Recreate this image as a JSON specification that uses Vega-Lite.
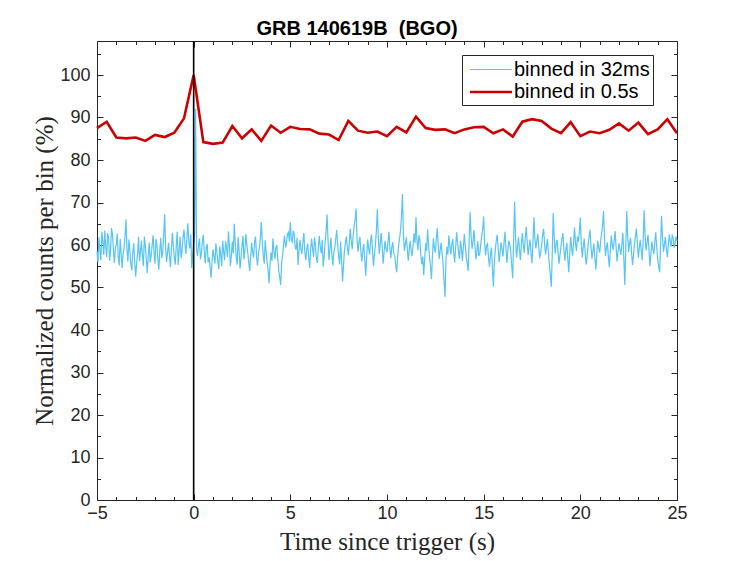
{
  "$schema": "https://vega.github.io/schema/vega-lite/v6.json",
  "width": 580,
  "height": 459,
  "autosize": {"type": "none"},
  "padding": {"left": 97, "top": 41, "right": 70, "bottom": 61},
  "background": "white",
  "title": {
    "text": "GRB 140619B\u00a0 (BGO)",
    "font": "Liberation Sans",
    "fontSize": 20,
    "fontWeight": "bold",
    "color": "black",
    "anchor": "middle",
    "dx": -30,
    "dy": 21,
    "offset": 6,
    "baseline": "alphabetic"
  },
  "data": {"values": [
    {"t":-5.00,"v":58.5,"s":"a"},{"t":-4.95,"v":55.9,"s":"a"},{"t":-4.90,"v":61.8,"s":"a"},{"t":-4.85,"v":59.0,"s":"a"},{"t":-4.80,"v":56.4,"s":"a"},
    {"t":-4.75,"v":63.1,"s":"a"},{"t":-4.70,"v":60.9,"s":"a"},{"t":-4.65,"v":57.7,"s":"a"},{"t":-4.60,"v":63.4,"s":"a"},{"t":-4.55,"v":59.6,"s":"a"},
    {"t":-4.50,"v":57.2,"s":"a"},{"t":-4.45,"v":62.8,"s":"a"},{"t":-4.40,"v":61.6,"s":"a"},{"t":-4.35,"v":56.3,"s":"a"},{"t":-4.30,"v":58.7,"s":"a"},
    {"t":-4.25,"v":64.0,"s":"a"},{"t":-4.20,"v":62.5,"s":"a"},{"t":-4.15,"v":58.9,"s":"a"},{"t":-4.10,"v":55.8,"s":"a"},{"t":-4.05,"v":59.4,"s":"a"},
    {"t":-4.00,"v":60.1,"s":"a"},{"t":-3.95,"v":62.7,"s":"a"},{"t":-3.90,"v":57.0,"s":"a"},{"t":-3.85,"v":55.2,"s":"a"},{"t":-3.80,"v":61.4,"s":"a"},
    {"t":-3.75,"v":58.1,"s":"a"},{"t":-3.70,"v":54.6,"s":"a"},{"t":-3.65,"v":57.9,"s":"a"},{"t":-3.60,"v":59.3,"s":"a"},{"t":-3.55,"v":62.2,"s":"a"},
    {"t":-3.50,"v":66.0,"s":"a"},{"t":-3.45,"v":58.8,"s":"a"},{"t":-3.40,"v":56.1,"s":"a"},{"t":-3.35,"v":61.3,"s":"a"},{"t":-3.30,"v":58.8,"s":"a"},
    {"t":-3.25,"v":55.5,"s":"a"},{"t":-3.20,"v":54.0,"s":"a"},{"t":-3.15,"v":58.3,"s":"a"},{"t":-3.10,"v":60.4,"s":"a"},{"t":-3.05,"v":56.0,"s":"a"},
    {"t":-3.00,"v":52.6,"s":"a"},{"t":-2.95,"v":55.7,"s":"a"},{"t":-2.90,"v":58.0,"s":"a"},{"t":-2.85,"v":61.9,"s":"a"},{"t":-2.80,"v":56.2,"s":"a"},
    {"t":-2.75,"v":58.5,"s":"a"},{"t":-2.70,"v":61.0,"s":"a"},{"t":-2.65,"v":57.3,"s":"a"},{"t":-2.60,"v":55.1,"s":"a"},{"t":-2.55,"v":62.0,"s":"a"},
    {"t":-2.50,"v":59.7,"s":"a"},{"t":-2.45,"v":56.8,"s":"a"},{"t":-2.40,"v":53.4,"s":"a"},{"t":-2.35,"v":57.6,"s":"a"},{"t":-2.30,"v":60.6,"s":"a"},
    {"t":-2.25,"v":55.9,"s":"a"},{"t":-2.20,"v":57.5,"s":"a"},{"t":-2.15,"v":59.8,"s":"a"},{"t":-2.10,"v":62.3,"s":"a"},{"t":-2.05,"v":58.4,"s":"a"},
    {"t":-2.00,"v":55.6,"s":"a"},{"t":-1.95,"v":61.4,"s":"a"},{"t":-1.90,"v":59.9,"s":"a"},{"t":-1.85,"v":56.7,"s":"a"},{"t":-1.80,"v":54.2,"s":"a"},
    {"t":-1.75,"v":58.9,"s":"a"},{"t":-1.70,"v":61.7,"s":"a"},{"t":-1.65,"v":56.9,"s":"a"},{"t":-1.60,"v":58.3,"s":"a"},{"t":-1.55,"v":62.4,"s":"a"},
    {"t":-1.50,"v":67.2,"s":"a"},{"t":-1.45,"v":59.5,"s":"a"},{"t":-1.40,"v":56.0,"s":"a"},{"t":-1.35,"v":58.2,"s":"a"},{"t":-1.30,"v":60.5,"s":"a"},
    {"t":-1.25,"v":57.6,"s":"a"},{"t":-1.20,"v":54.8,"s":"a"},{"t":-1.15,"v":59.1,"s":"a"},{"t":-1.10,"v":62.9,"s":"a"},{"t":-1.05,"v":59.6,"s":"a"},
    {"t":-1.00,"v":57.1,"s":"a"},{"t":-0.95,"v":55.4,"s":"a"},{"t":-0.90,"v":60.0,"s":"a"},{"t":-0.85,"v":63.1,"s":"a"},{"t":-0.80,"v":55.3,"s":"a"},
    {"t":-0.75,"v":58.7,"s":"a"},{"t":-0.70,"v":62.0,"s":"a"},{"t":-0.65,"v":56.9,"s":"a"},{"t":-0.60,"v":58.6,"s":"a"},{"t":-0.55,"v":61.8,"s":"a"},
    {"t":-0.50,"v":63.6,"s":"a"},{"t":-0.45,"v":60.2,"s":"a"},{"t":-0.40,"v":57.9,"s":"a"},{"t":-0.35,"v":61.6,"s":"a"},{"t":-0.30,"v":65.1,"s":"a"},
    {"t":-0.25,"v":60.7,"s":"a"},{"t":-0.20,"v":59.2,"s":"a"},{"t":-0.15,"v":62.5,"s":"a"},{"t":-0.10,"v":54.6,"s":"a"},{"t":-0.05,"v":57.8,"s":"a"},
    {"t":0.00,"v":60.3,"s":"a"},{"t":0.05,"v":62.0,"s":"a"},{"t":0.10,"v":92.0,"s":"a"},{"t":0.15,"v":58.9,"s":"a"},{"t":0.20,"v":57.4,"s":"a"},
    {"t":0.25,"v":60.1,"s":"a"},{"t":0.30,"v":61.5,"s":"a"},{"t":0.35,"v":56.6,"s":"a"},{"t":0.40,"v":58.0,"s":"a"},{"t":0.45,"v":60.9,"s":"a"},
    {"t":0.50,"v":62.4,"s":"a"},{"t":0.55,"v":58.3,"s":"a"},{"t":0.60,"v":55.7,"s":"a"},{"t":0.65,"v":59.5,"s":"a"},{"t":0.70,"v":60.2,"s":"a"},
    {"t":0.75,"v":55.9,"s":"a"},{"t":0.80,"v":57.1,"s":"a"},{"t":0.85,"v":54.7,"s":"a"},{"t":0.90,"v":52.3,"s":"a"},{"t":0.95,"v":56.2,"s":"a"},
    {"t":1.00,"v":59.0,"s":"a"},{"t":1.05,"v":57.3,"s":"a"},{"t":1.10,"v":55.6,"s":"a"},{"t":1.15,"v":60.4,"s":"a"},{"t":1.20,"v":58.4,"s":"a"},
    {"t":1.25,"v":56.1,"s":"a"},{"t":1.30,"v":54.3,"s":"a"},{"t":1.35,"v":59.7,"s":"a"},{"t":1.40,"v":57.8,"s":"a"},{"t":1.45,"v":55.0,"s":"a"},
    {"t":1.50,"v":61.0,"s":"a"},{"t":1.55,"v":58.5,"s":"a"},{"t":1.60,"v":56.4,"s":"a"},{"t":1.65,"v":60.9,"s":"a"},{"t":1.70,"v":59.5,"s":"a"},
    {"t":1.75,"v":57.2,"s":"a"},{"t":1.80,"v":63.2,"s":"a"},{"t":1.85,"v":59.8,"s":"a"},{"t":1.90,"v":55.0,"s":"a"},{"t":1.95,"v":57.6,"s":"a"},
    {"t":2.00,"v":60.8,"s":"a"},{"t":2.05,"v":58.0,"s":"a"},{"t":2.10,"v":65.0,"s":"a"},{"t":2.15,"v":60.6,"s":"a"},{"t":2.20,"v":57.2,"s":"a"},
    {"t":2.25,"v":55.4,"s":"a"},{"t":2.30,"v":61.9,"s":"a"},{"t":2.35,"v":58.6,"s":"a"},{"t":2.40,"v":54.5,"s":"a"},{"t":2.45,"v":57.1,"s":"a"},
    {"t":2.50,"v":59.8,"s":"a"},{"t":2.55,"v":62.2,"s":"a"},{"t":2.60,"v":56.6,"s":"a"},{"t":2.65,"v":58.9,"s":"a"},{"t":2.70,"v":62.6,"s":"a"},
    {"t":2.75,"v":60.1,"s":"a"},{"t":2.80,"v":58.1,"s":"a"},{"t":2.85,"v":55.8,"s":"a"},{"t":2.90,"v":53.9,"s":"a"},{"t":2.95,"v":57.4,"s":"a"},
    {"t":3.00,"v":60.5,"s":"a"},{"t":3.05,"v":58.2,"s":"a"},{"t":3.10,"v":57.0,"s":"a"},{"t":3.15,"v":60.8,"s":"a"},{"t":3.20,"v":62.0,"s":"a"},
    {"t":3.25,"v":57.5,"s":"a"},{"t":3.30,"v":55.2,"s":"a"},{"t":3.35,"v":57.9,"s":"a"},{"t":3.40,"v":59.4,"s":"a"},{"t":3.45,"v":61.7,"s":"a"},
    {"t":3.50,"v":65.4,"s":"a"},{"t":3.55,"v":60.3,"s":"a"},{"t":3.60,"v":57.6,"s":"a"},{"t":3.65,"v":55.6,"s":"a"},{"t":3.70,"v":61.1,"s":"a"},
    {"t":3.75,"v":58.4,"s":"a"},{"t":3.80,"v":55.9,"s":"a"},{"t":3.85,"v":54.1,"s":"a"},{"t":3.90,"v":51.0,"s":"a"},{"t":3.95,"v":55.5,"s":"a"},
    {"t":4.00,"v":58.2,"s":"a"},{"t":4.05,"v":56.3,"s":"a"},{"t":4.10,"v":61.6,"s":"a"},{"t":4.15,"v":58.7,"s":"a"},{"t":4.20,"v":56.8,"s":"a"},
    {"t":4.25,"v":59.3,"s":"a"},{"t":4.30,"v":60.0,"s":"a"},{"t":4.35,"v":56.9,"s":"a"},{"t":4.40,"v":54.0,"s":"a"},{"t":4.45,"v":52.5,"s":"a"},
    {"t":4.50,"v":50.6,"s":"a"},{"t":4.55,"v":55.8,"s":"a"},{"t":4.60,"v":57.5,"s":"a"},{"t":4.65,"v":60.3,"s":"a"},{"t":4.70,"v":62.2,"s":"a"},
    {"t":4.75,"v":59.4,"s":"a"},{"t":4.80,"v":60.4,"s":"a"},{"t":4.85,"v":62.6,"s":"a"},{"t":4.90,"v":63.0,"s":"a"},{"t":4.95,"v":60.8,"s":"a"},
    {"t":5.00,"v":65.4,"s":"a"},{"t":5.05,"v":61.2,"s":"a"},{"t":5.10,"v":60.7,"s":"a"},{"t":5.15,"v":63.4,"s":"a"},{"t":5.20,"v":62.6,"s":"a"},
    {"t":5.25,"v":59.5,"s":"a"},{"t":5.30,"v":58.9,"s":"a"},{"t":5.35,"v":61.7,"s":"a"},{"t":5.40,"v":55.3,"s":"a"},{"t":5.45,"v":58.6,"s":"a"},
    {"t":5.50,"v":61.2,"s":"a"},{"t":5.55,"v":59.0,"s":"a"},{"t":5.60,"v":57.9,"s":"a"},{"t":5.65,"v":60.7,"s":"a"},{"t":5.70,"v":62.8,"s":"a"},
    {"t":5.75,"v":58.3,"s":"a"},{"t":5.80,"v":56.4,"s":"a"},{"t":5.85,"v":59.1,"s":"a"},{"t":5.90,"v":60.3,"s":"a"},{"t":5.95,"v":57.2,"s":"a"},
    {"t":6.00,"v":54.6,"s":"a"},{"t":6.05,"v":58.8,"s":"a"},{"t":6.10,"v":61.5,"s":"a"},{"t":6.15,"v":59.2,"s":"a"},{"t":6.20,"v":57.2,"s":"a"},
    {"t":6.25,"v":61.8,"s":"a"},{"t":6.30,"v":59.9,"s":"a"},{"t":6.35,"v":56.6,"s":"a"},{"t":6.40,"v":55.8,"s":"a"},{"t":6.45,"v":59.7,"s":"a"},
    {"t":6.50,"v":62.1,"s":"a"},{"t":6.55,"v":59.4,"s":"a"},{"t":6.60,"v":58.0,"s":"a"},{"t":6.65,"v":61.2,"s":"a"},{"t":6.70,"v":54.9,"s":"a"},
    {"t":6.75,"v":57.5,"s":"a"},{"t":6.80,"v":60.6,"s":"a"},{"t":6.85,"v":63.3,"s":"a"},{"t":6.90,"v":67.2,"s":"a"},{"t":6.95,"v":61.1,"s":"a"},
    {"t":7.00,"v":56.5,"s":"a"},{"t":7.05,"v":59.0,"s":"a"},{"t":7.10,"v":61.7,"s":"a"},{"t":7.15,"v":57.9,"s":"a"},{"t":7.20,"v":55.2,"s":"a"},
    {"t":7.25,"v":58.3,"s":"a"},{"t":7.30,"v":59.4,"s":"a"},{"t":7.35,"v":61.6,"s":"a"},{"t":7.40,"v":63.5,"s":"a"},{"t":7.45,"v":59.9,"s":"a"},
    {"t":7.50,"v":57.3,"s":"a"},{"t":7.55,"v":55.4,"s":"a"},{"t":7.60,"v":60.8,"s":"a"},{"t":7.65,"v":56.6,"s":"a"},{"t":7.70,"v":51.4,"s":"a"},
    {"t":7.75,"v":55.2,"s":"a"},{"t":7.80,"v":58.7,"s":"a"},{"t":7.85,"v":60.6,"s":"a"},{"t":7.90,"v":62.0,"s":"a"},{"t":7.95,"v":59.3,"s":"a"},
    {"t":8.00,"v":57.6,"s":"a"},{"t":8.05,"v":60.5,"s":"a"},{"t":8.10,"v":63.8,"s":"a"},{"t":8.15,"v":61.0,"s":"a"},{"t":8.20,"v":59.0,"s":"a"},
    {"t":8.25,"v":62.1,"s":"a"},{"t":8.30,"v":64.6,"s":"a"},{"t":8.35,"v":66.0,"s":"a"},{"t":8.40,"v":68.6,"s":"a"},{"t":8.45,"v":61.3,"s":"a"},
    {"t":8.50,"v":58.4,"s":"a"},{"t":8.55,"v":60.7,"s":"a"},{"t":8.60,"v":61.9,"s":"a"},{"t":8.65,"v":58.2,"s":"a"},{"t":8.70,"v":56.1,"s":"a"},
    {"t":8.75,"v":58.9,"s":"a"},{"t":8.80,"v":60.2,"s":"a"},{"t":8.85,"v":56.4,"s":"a"},{"t":8.90,"v":52.8,"s":"a"},{"t":8.95,"v":57.6,"s":"a"},
    {"t":9.00,"v":61.3,"s":"a"},{"t":9.05,"v":59.2,"s":"a"},{"t":9.10,"v":57.7,"s":"a"},{"t":9.15,"v":60.8,"s":"a"},{"t":9.20,"v":62.5,"s":"a"},
    {"t":9.25,"v":58.7,"s":"a"},{"t":9.30,"v":55.0,"s":"a"},{"t":9.35,"v":57.9,"s":"a"},{"t":9.40,"v":60.0,"s":"a"},{"t":9.45,"v":63.4,"s":"a"},
    {"t":9.50,"v":68.4,"s":"a"},{"t":9.55,"v":61.9,"s":"a"},{"t":9.60,"v":57.9,"s":"a"},{"t":9.65,"v":60.3,"s":"a"},{"t":9.70,"v":62.8,"s":"a"},
    {"t":9.75,"v":59.6,"s":"a"},{"t":9.80,"v":55.6,"s":"a"},{"t":9.85,"v":58.4,"s":"a"},{"t":9.90,"v":61.0,"s":"a"},{"t":9.95,"v":59.1,"s":"a"},
    {"t":10.00,"v":58.3,"s":"a"},{"t":10.05,"v":60.7,"s":"a"},{"t":10.10,"v":63.1,"s":"a"},{"t":10.15,"v":59.4,"s":"a"},{"t":10.20,"v":56.9,"s":"a"},
    {"t":10.25,"v":59.5,"s":"a"},{"t":10.30,"v":60.7,"s":"a"},{"t":10.35,"v":58.0,"s":"a"},{"t":10.40,"v":57.5,"s":"a"},{"t":10.45,"v":55.2,"s":"a"},
    {"t":10.50,"v":53.6,"s":"a"},{"t":10.55,"v":57.3,"s":"a"},{"t":10.60,"v":59.8,"s":"a"},{"t":10.65,"v":61.6,"s":"a"},{"t":10.70,"v":63.4,"s":"a"},
    {"t":10.75,"v":66.9,"s":"a"},{"t":10.80,"v":72.0,"s":"a"},{"t":10.85,"v":62.4,"s":"a"},{"t":10.90,"v":58.6,"s":"a"},{"t":10.95,"v":60.2,"s":"a"},
    {"t":11.00,"v":61.8,"s":"a"},{"t":11.05,"v":59.0,"s":"a"},{"t":11.10,"v":56.3,"s":"a"},{"t":11.15,"v":58.9,"s":"a"},{"t":11.20,"v":60.9,"s":"a"},
    {"t":11.25,"v":58.5,"s":"a"},{"t":11.30,"v":57.4,"s":"a"},{"t":11.35,"v":60.1,"s":"a"},{"t":11.40,"v":62.7,"s":"a"},{"t":11.45,"v":60.4,"s":"a"},
    {"t":11.50,"v":66.5,"s":"a"},{"t":11.55,"v":61.0,"s":"a"},{"t":11.60,"v":58.8,"s":"a"},{"t":11.65,"v":62.3,"s":"a"},{"t":11.70,"v":61.2,"s":"a"},
    {"t":11.75,"v":57.7,"s":"a"},{"t":11.80,"v":55.5,"s":"a"},{"t":11.85,"v":57.3,"s":"a"},{"t":11.90,"v":52.9,"s":"a"},{"t":11.95,"v":56.8,"s":"a"},
    {"t":12.00,"v":60.4,"s":"a"},{"t":12.05,"v":58.6,"s":"a"},{"t":12.10,"v":63.7,"s":"a"},{"t":12.15,"v":60.0,"s":"a"},{"t":12.20,"v":57.1,"s":"a"},
    {"t":12.25,"v":55.0,"s":"a"},{"t":12.30,"v":52.0,"s":"a"},{"t":12.35,"v":57.4,"s":"a"},{"t":12.40,"v":61.6,"s":"a"},{"t":12.45,"v":59.3,"s":"a"},
    {"t":12.50,"v":58.2,"s":"a"},{"t":12.55,"v":61.5,"s":"a"},{"t":12.60,"v":64.0,"s":"a"},{"t":12.65,"v":59.8,"s":"a"},{"t":12.70,"v":56.7,"s":"a"},
    {"t":12.75,"v":58.8,"s":"a"},{"t":12.80,"v":60.5,"s":"a"},{"t":12.85,"v":58.0,"s":"a"},{"t":12.90,"v":55.4,"s":"a"},{"t":12.95,"v":51.6,"s":"a"},
    {"t":13.00,"v":47.8,"s":"a"},{"t":13.05,"v":56.5,"s":"a"},{"t":13.10,"v":59.6,"s":"a"},{"t":13.15,"v":57.7,"s":"a"},{"t":13.20,"v":62.3,"s":"a"},
    {"t":13.25,"v":59.9,"s":"a"},{"t":13.30,"v":57.8,"s":"a"},{"t":13.35,"v":60.1,"s":"a"},{"t":13.40,"v":61.4,"s":"a"},{"t":13.45,"v":58.3,"s":"a"},
    {"t":13.50,"v":55.9,"s":"a"},{"t":13.55,"v":59.4,"s":"a"},{"t":13.60,"v":63.0,"s":"a"},{"t":13.65,"v":60.6,"s":"a"},{"t":13.70,"v":58.5,"s":"a"},
    {"t":13.75,"v":56.7,"s":"a"},{"t":13.80,"v":61.0,"s":"a"},{"t":13.85,"v":59.2,"s":"a"},{"t":13.90,"v":56.2,"s":"a"},{"t":13.95,"v":59.6,"s":"a"},
    {"t":14.00,"v":62.6,"s":"a"},{"t":14.05,"v":59.8,"s":"a"},{"t":14.10,"v":57.2,"s":"a"},{"t":14.15,"v":55.6,"s":"a"},{"t":14.20,"v":53.9,"s":"a"},
    {"t":14.25,"v":61.2,"s":"a"},{"t":14.30,"v":67.7,"s":"a"},{"t":14.35,"v":62.0,"s":"a"},{"t":14.40,"v":59.1,"s":"a"},{"t":14.45,"v":61.0,"s":"a"},
    {"t":14.50,"v":63.5,"s":"a"},{"t":14.55,"v":59.7,"s":"a"},{"t":14.60,"v":56.6,"s":"a"},{"t":14.65,"v":58.6,"s":"a"},{"t":14.70,"v":60.9,"s":"a"},
    {"t":14.75,"v":57.4,"s":"a"},{"t":14.80,"v":58.0,"s":"a"},{"t":14.85,"v":60.3,"s":"a"},{"t":14.90,"v":62.1,"s":"a"},{"t":14.95,"v":63.8,"s":"a"},
    {"t":15.00,"v":66.7,"s":"a"},{"t":15.05,"v":60.5,"s":"a"},{"t":15.10,"v":57.6,"s":"a"},{"t":15.15,"v":59.9,"s":"a"},{"t":15.20,"v":60.3,"s":"a"},
    {"t":15.25,"v":57.0,"s":"a"},{"t":15.30,"v":54.9,"s":"a"},{"t":15.35,"v":57.8,"s":"a"},{"t":15.40,"v":59.4,"s":"a"},{"t":15.45,"v":55.0,"s":"a"},
    {"t":15.50,"v":50.2,"s":"a"},{"t":15.55,"v":55.6,"s":"a"},{"t":15.60,"v":58.8,"s":"a"},{"t":15.65,"v":61.0,"s":"a"},{"t":15.70,"v":62.4,"s":"a"},
    {"t":15.75,"v":59.2,"s":"a"},{"t":15.80,"v":56.0,"s":"a"},{"t":15.85,"v":58.3,"s":"a"},{"t":15.90,"v":60.6,"s":"a"},{"t":15.95,"v":58.9,"s":"a"},
    {"t":16.00,"v":57.3,"s":"a"},{"t":16.05,"v":60.4,"s":"a"},{"t":16.10,"v":63.1,"s":"a"},{"t":16.15,"v":59.3,"s":"a"},{"t":16.20,"v":55.8,"s":"a"},
    {"t":16.25,"v":58.7,"s":"a"},{"t":16.30,"v":61.0,"s":"a"},{"t":16.35,"v":60.2,"s":"a"},{"t":16.40,"v":58.4,"s":"a"},{"t":16.45,"v":55.1,"s":"a"},
    {"t":16.50,"v":52.2,"s":"a"},{"t":16.55,"v":61.3,"s":"a"},{"t":16.60,"v":70.2,"s":"a"},{"t":16.65,"v":62.0,"s":"a"},{"t":16.70,"v":57.0,"s":"a"},
    {"t":16.75,"v":59.4,"s":"a"},{"t":16.80,"v":61.8,"s":"a"},{"t":16.85,"v":59.0,"s":"a"},{"t":16.90,"v":56.5,"s":"a"},{"t":16.95,"v":60.1,"s":"a"},
    {"t":17.00,"v":62.9,"s":"a"},{"t":17.05,"v":60.0,"s":"a"},{"t":17.10,"v":58.1,"s":"a"},{"t":17.15,"v":61.6,"s":"a"},{"t":17.20,"v":64.2,"s":"a"},
    {"t":17.25,"v":60.9,"s":"a"},{"t":17.30,"v":57.6,"s":"a"},{"t":17.35,"v":59.8,"s":"a"},{"t":17.40,"v":61.3,"s":"a"},{"t":17.45,"v":58.0,"s":"a"},
    {"t":17.50,"v":55.7,"s":"a"},{"t":17.55,"v":60.8,"s":"a"},{"t":17.60,"v":66.5,"s":"a"},{"t":17.65,"v":61.4,"s":"a"},{"t":17.70,"v":59.2,"s":"a"},
    {"t":17.75,"v":60.9,"s":"a"},{"t":17.80,"v":62.6,"s":"a"},{"t":17.85,"v":59.5,"s":"a"},{"t":17.90,"v":56.9,"s":"a"},{"t":17.95,"v":58.2,"s":"a"},
    {"t":18.00,"v":60.1,"s":"a"},{"t":18.05,"v":62.4,"s":"a"},{"t":18.10,"v":63.8,"s":"a"},{"t":18.15,"v":60.3,"s":"a"},{"t":18.20,"v":57.8,"s":"a"},
    {"t":18.25,"v":59.6,"s":"a"},{"t":18.30,"v":61.4,"s":"a"},{"t":18.35,"v":58.0,"s":"a"},{"t":18.40,"v":55.2,"s":"a"},{"t":18.45,"v":52.9,"s":"a"},
    {"t":18.50,"v":50.2,"s":"a"},{"t":18.55,"v":58.4,"s":"a"},{"t":18.60,"v":67.5,"s":"a"},{"t":18.65,"v":61.6,"s":"a"},{"t":18.70,"v":58.0,"s":"a"},
    {"t":18.75,"v":60.3,"s":"a"},{"t":18.80,"v":61.2,"s":"a"},{"t":18.85,"v":58.1,"s":"a"},{"t":18.90,"v":55.6,"s":"a"},{"t":18.95,"v":57.8,"s":"a"},
    {"t":19.00,"v":59.7,"s":"a"},{"t":19.05,"v":61.5,"s":"a"},{"t":19.10,"v":62.8,"s":"a"},{"t":19.15,"v":59.0,"s":"a"},{"t":19.20,"v":56.3,"s":"a"},
    {"t":19.25,"v":58.9,"s":"a"},{"t":19.30,"v":60.5,"s":"a"},{"t":19.35,"v":56.8,"s":"a"},{"t":19.40,"v":53.6,"s":"a"},{"t":19.45,"v":57.9,"s":"a"},
    {"t":19.50,"v":61.9,"s":"a"},{"t":19.55,"v":59.3,"s":"a"},{"t":19.60,"v":57.5,"s":"a"},{"t":19.65,"v":60.6,"s":"a"},{"t":19.70,"v":64.1,"s":"a"},
    {"t":19.75,"v":60.4,"s":"a"},{"t":19.80,"v":58.6,"s":"a"},{"t":19.85,"v":62.0,"s":"a"},{"t":19.90,"v":60.8,"s":"a"},{"t":19.95,"v":63.1,"s":"a"},
    {"t":20.00,"v":66.4,"s":"a"},{"t":20.05,"v":60.2,"s":"a"},{"t":20.10,"v":57.1,"s":"a"},{"t":20.15,"v":59.6,"s":"a"},{"t":20.20,"v":61.5,"s":"a"},
    {"t":20.25,"v":58.4,"s":"a"},{"t":20.30,"v":55.4,"s":"a"},{"t":20.35,"v":57.2,"s":"a"},{"t":20.40,"v":59.9,"s":"a"},{"t":20.45,"v":61.8,"s":"a"},
    {"t":20.50,"v":63.6,"s":"a"},{"t":20.55,"v":59.7,"s":"a"},{"t":20.60,"v":56.8,"s":"a"},{"t":20.65,"v":58.5,"s":"a"},{"t":20.70,"v":60.3,"s":"a"},
    {"t":20.75,"v":57.1,"s":"a"},{"t":20.80,"v":54.2,"s":"a"},{"t":20.85,"v":57.7,"s":"a"},{"t":20.90,"v":61.0,"s":"a"},{"t":20.95,"v":59.4,"s":"a"},
    {"t":21.00,"v":58.2,"s":"a"},{"t":21.05,"v":60.9,"s":"a"},{"t":21.10,"v":62.7,"s":"a"},{"t":21.15,"v":64.6,"s":"a"},{"t":21.20,"v":68.0,"s":"a"},
    {"t":21.25,"v":61.5,"s":"a"},{"t":21.30,"v":57.4,"s":"a"},{"t":21.35,"v":59.5,"s":"a"},{"t":21.40,"v":60.6,"s":"a"},{"t":21.45,"v":57.3,"s":"a"},
    {"t":21.50,"v":54.8,"s":"a"},{"t":21.55,"v":58.7,"s":"a"},{"t":21.60,"v":62.2,"s":"a"},{"t":21.65,"v":60.0,"s":"a"},{"t":21.70,"v":58.9,"s":"a"},
    {"t":21.75,"v":61.1,"s":"a"},{"t":21.80,"v":63.3,"s":"a"},{"t":21.85,"v":59.4,"s":"a"},{"t":21.90,"v":56.1,"s":"a"},{"t":21.95,"v":58.5,"s":"a"},
    {"t":22.00,"v":60.4,"s":"a"},{"t":22.05,"v":59.0,"s":"a"},{"t":22.10,"v":57.7,"s":"a"},{"t":22.15,"v":60.3,"s":"a"},{"t":22.20,"v":62.9,"s":"a"},
    {"t":22.25,"v":56.8,"s":"a"},{"t":22.30,"v":50.6,"s":"a"},{"t":22.35,"v":59.2,"s":"a"},{"t":22.40,"v":68.0,"s":"a"},{"t":22.45,"v":62.1,"s":"a"},
    {"t":22.50,"v":58.3,"s":"a"},{"t":22.55,"v":60.5,"s":"a"},{"t":22.60,"v":61.7,"s":"a"},{"t":22.65,"v":58.2,"s":"a"},{"t":22.70,"v":55.3,"s":"a"},
    {"t":22.75,"v":57.6,"s":"a"},{"t":22.80,"v":60.0,"s":"a"},{"t":22.85,"v":62.1,"s":"a"},{"t":22.90,"v":63.9,"s":"a"},{"t":22.95,"v":60.4,"s":"a"},
    {"t":23.00,"v":57.0,"s":"a"},{"t":23.05,"v":59.3,"s":"a"},{"t":23.10,"v":61.2,"s":"a"},{"t":23.15,"v":58.8,"s":"a"},{"t":23.20,"v":56.4,"s":"a"},
    {"t":23.25,"v":61.0,"s":"a"},{"t":23.30,"v":68.2,"s":"a"},{"t":23.35,"v":62.2,"s":"a"},{"t":23.40,"v":58.7,"s":"a"},{"t":23.45,"v":60.6,"s":"a"},
    {"t":23.50,"v":62.4,"s":"a"},{"t":23.55,"v":58.9,"s":"a"},{"t":23.60,"v":55.0,"s":"a"},{"t":23.65,"v":57.8,"s":"a"},{"t":23.70,"v":60.8,"s":"a"},
    {"t":23.75,"v":59.1,"s":"a"},{"t":23.80,"v":57.9,"s":"a"},{"t":23.85,"v":60.7,"s":"a"},{"t":23.90,"v":63.0,"s":"a"},{"t":23.95,"v":59.6,"s":"a"},
    {"t":24.00,"v":56.6,"s":"a"},{"t":24.05,"v":55.0,"s":"a"},{"t":24.10,"v":53.6,"s":"a"},{"t":24.15,"v":59.8,"s":"a"},{"t":24.20,"v":66.9,"s":"a"},
    {"t":24.25,"v":61.7,"s":"a"},{"t":24.30,"v":58.4,"s":"a"},{"t":24.35,"v":60.2,"s":"a"},{"t":24.40,"v":61.9,"s":"a"},{"t":24.45,"v":59.0,"s":"a"},
    {"t":24.50,"v":57.2,"s":"a"},{"t":24.55,"v":59.9,"s":"a"},{"t":24.60,"v":62.5,"s":"a"},{"t":24.65,"v":60.8,"s":"a"},{"t":24.70,"v":59.6,"s":"a"},
    {"t":24.75,"v":62.3,"s":"a"},{"t":24.80,"v":61.8,"s":"a"},{"t":24.85,"v":59.4,"s":"a"},{"t":24.90,"v":60.2,"s":"a"},{"t":24.95,"v":62.0,"s":"a"},
    {"t":25.00,"v":61.0,"s":"a"},
    {"t":-5.0,"v":87.5,"s":"b"},{"t":-4.5,"v":89.0,"s":"b"},{"t":-4.0,"v":85.3,"s":"b"},{"t":-3.5,"v":85.1,"s":"b"},{"t":-3.0,"v":85.3,"s":"b"},
    {"t":-2.5,"v":84.5,"s":"b"},{"t":-2.0,"v":85.9,"s":"b"},{"t":-1.5,"v":85.4,"s":"b"},{"t":-1.0,"v":86.4,"s":"b"},{"t":-0.5,"v":89.8,"s":"b"},
    {"t":0.0,"v":100.0,"s":"b"},{"t":0.5,"v":84.2,"s":"b"},{"t":1.0,"v":83.8,"s":"b"},{"t":1.5,"v":84.1,"s":"b"},{"t":2.0,"v":88.0,"s":"b"},
    {"t":2.5,"v":85.1,"s":"b"},{"t":3.0,"v":87.2,"s":"b"},{"t":3.5,"v":84.5,"s":"b"},{"t":4.0,"v":88.1,"s":"b"},{"t":4.5,"v":86.4,"s":"b"},
    {"t":5.0,"v":87.8,"s":"b"},{"t":5.5,"v":87.3,"s":"b"},{"t":6.0,"v":87.2,"s":"b"},{"t":6.5,"v":86.2,"s":"b"},{"t":7.0,"v":86.0,"s":"b"},
    {"t":7.5,"v":84.7,"s":"b"},{"t":8.0,"v":89.2,"s":"b"},{"t":8.5,"v":86.9,"s":"b"},{"t":9.0,"v":86.4,"s":"b"},{"t":9.5,"v":86.7,"s":"b"},
    {"t":10.0,"v":85.6,"s":"b"},{"t":10.5,"v":87.8,"s":"b"},{"t":11.0,"v":86.5,"s":"b"},{"t":11.5,"v":90.2,"s":"b"},{"t":12.0,"v":87.5,"s":"b"},
    {"t":12.5,"v":87.1,"s":"b"},{"t":13.0,"v":87.2,"s":"b"},{"t":13.5,"v":86.3,"s":"b"},{"t":14.0,"v":87.2,"s":"b"},{"t":14.5,"v":87.7,"s":"b"},
    {"t":15.0,"v":87.8,"s":"b"},{"t":15.5,"v":86.3,"s":"b"},{"t":16.0,"v":87.2,"s":"b"},{"t":16.5,"v":85.5,"s":"b"},{"t":17.0,"v":89.0,"s":"b"},
    {"t":17.5,"v":89.6,"s":"b"},{"t":18.0,"v":89.2,"s":"b"},{"t":18.5,"v":87.4,"s":"b"},{"t":19.0,"v":86.3,"s":"b"},{"t":19.5,"v":88.9,"s":"b"},
    {"t":20.0,"v":85.6,"s":"b"},{"t":20.5,"v":86.7,"s":"b"},{"t":21.0,"v":86.3,"s":"b"},{"t":21.5,"v":87.1,"s":"b"},{"t":22.0,"v":88.6,"s":"b"},
    {"t":22.5,"v":86.9,"s":"b"},{"t":23.0,"v":88.8,"s":"b"},{"t":23.5,"v":86.1,"s":"b"},{"t":24.0,"v":87.2,"s":"b"},{"t":24.5,"v":89.6,"s":"b"},
    {"t":25.0,"v":86.3,"s":"b"}
  ]},
  "layer": [
    {
      "mark": {"type": "line"},
      "encoding": {
        "x": {"field": "t", "type": "quantitative",
          "scale": {"domain": [-5, 25], "nice": false, "zero": false},
          "axis": {"orient": "bottom", "values": [-5, 0, 5, 10, 15, 20, 25], "title": "Time since trigger (s)",
            "labelPadding": 10, "labelFlush": false, "titleY": 49, "titleBaseline": "alphabetic"}},
        "y": {"field": "v", "type": "quantitative",
          "scale": {"domain": [0, 108], "nice": false, "zero": false},
          "axis": {"orient": "left", "values": [0, 10, 20, 30, 40, 50, 60, 70, 80, 90, 100], "title": "Normalized counts per bin (%)",
            "labelPadding": 13, "labelFlush": false, "titleX": -45, "titleY": 229.5, "titleAngle": -90, "titleBaseline": "alphabetic"}},
        "color": {"field": "s", "type": "nominal",
          "scale": {"domain": ["a", "b"], "range": ["#56C4F5", "#CC0000"]},
          "legend": {"orient": "none", "legendX": 365, "legendY": 14, "title": null, "strokeColor": "#262626", "fillColor": "white",
            "padding": 3, "symbolType": "M-2,0H2", "symbolSize": 441, "symbolOffset": 14, "labelFont": "Liberation Sans", "labelFontSize": 20,
            "labelColor": "black", "labelOffset": 11, "rowPadding": -3, "labelLimit": 300,
            "labelExpr": "datum.label == 'a' ? 'binned in 32ms' : 'binned in 0.5s'"}},
        "strokeWidth": {"field": "s", "type": "nominal",
          "scale": {"domain": ["a", "b"], "range": [1.2, 2.6]},
          "legend": {"orient": "none", "legendX": 365, "legendY": 14, "title": null, "strokeColor": "#262626", "fillColor": "white",
            "padding": 3, "symbolType": "M-2,0H2", "symbolSize": 441, "symbolOffset": 14, "labelFont": "Liberation Sans", "labelFontSize": 20,
            "labelColor": "black", "labelOffset": 11, "rowPadding": -3, "labelLimit": 300,
            "labelExpr": "datum.label == 'a' ? 'binned in 32ms' : 'binned in 0.5s'"}}
      }
    },
    {
      "mark": {"type": "line", "opacity": 0},
      "encoding": {
        "x": {"field": "t", "type": "quantitative", "scale": {"domain": [-5, 25], "nice": false, "zero": false},
          "axis": {"orient": "top", "values": [-5, 0, 5, 10, 15, 20, 25], "labels": false, "title": null}},
        "y": {"field": "v", "type": "quantitative", "scale": {"domain": [0, 108], "nice": false, "zero": false},
          "axis": {"orient": "right", "values": [0, 10, 20, 30, 40, 50, 60, 70, 80, 90, 100], "labels": false, "title": null}},
        "detail": {"field": "s"}
      }
    },
    {
      "mark": {"type": "line", "opacity": 0},
      "encoding": {
        "x": {"field": "t", "type": "quantitative", "scale": {"domain": [-5, 25], "nice": false, "zero": false},
          "axis": {"orient": "bottom", "values": [-4, -3, -2, -1, 1, 2, 3, 4, 6, 7, 8, 9, 11, 12, 13, 14, 16, 17, 18, 19, 21, 22, 23, 24],
            "labels": false, "title": null, "domain": false, "tickSize": -3.5}},
        "y": {"field": "v", "type": "quantitative", "scale": {"domain": [0, 108], "nice": false, "zero": false},
          "axis": {"orient": "left", "values": [5, 15, 25, 35, 45, 55, 65, 75, 85, 95, 105],
            "labels": false, "title": null, "domain": false, "tickSize": -3.5}},
        "detail": {"field": "s"}
      }
    },
    {
      "mark": {"type": "line", "opacity": 0},
      "encoding": {
        "x": {"field": "t", "type": "quantitative", "scale": {"domain": [-5, 25], "nice": false, "zero": false},
          "axis": {"orient": "top", "values": [-4, -3, -2, -1, 1, 2, 3, 4, 6, 7, 8, 9, 11, 12, 13, 14, 16, 17, 18, 19, 21, 22, 23, 24],
            "labels": false, "title": null, "domain": false, "tickSize": -3.5}},
        "y": {"field": "v", "type": "quantitative", "scale": {"domain": [0, 108], "nice": false, "zero": false},
          "axis": {"orient": "right", "values": [5, 15, 25, 35, 45, 55, 65, 75, 85, 95, 105],
            "labels": false, "title": null, "domain": false, "tickSize": -3.5}},
        "detail": {"field": "s"}
      }
    },
    {
      "data": {"values": [{"x": 0}]},
      "mark": {"type": "rule", "color": "black", "strokeWidth": 1.6},
      "encoding": {
        "x": {"field": "x", "type": "quantitative", "scale": {"domain": [-5, 25], "nice": false, "zero": false}, "axis": null}
      }
    }
  ],
  "resolve": {"axis": {"x": "independent", "y": "independent"}},
  "config": {
    "view": {"stroke": null},
    "axis": {
      "grid": false,
      "minExtent": 0,
      "tickSize": -6,
      "tickColor": "#262626",
      "domainColor": "#262626",
      "domainWidth": 1,
      "labelColor": "#262626",
      "labelFont": "Liberation Sans",
      "labelFontSize": 18,
      "titleFont": "Liberation Serif",
      "titleFontSize": 25,
      "titleFontWeight": "normal",
      "titleColor": "#262626"
    }
  }
}
